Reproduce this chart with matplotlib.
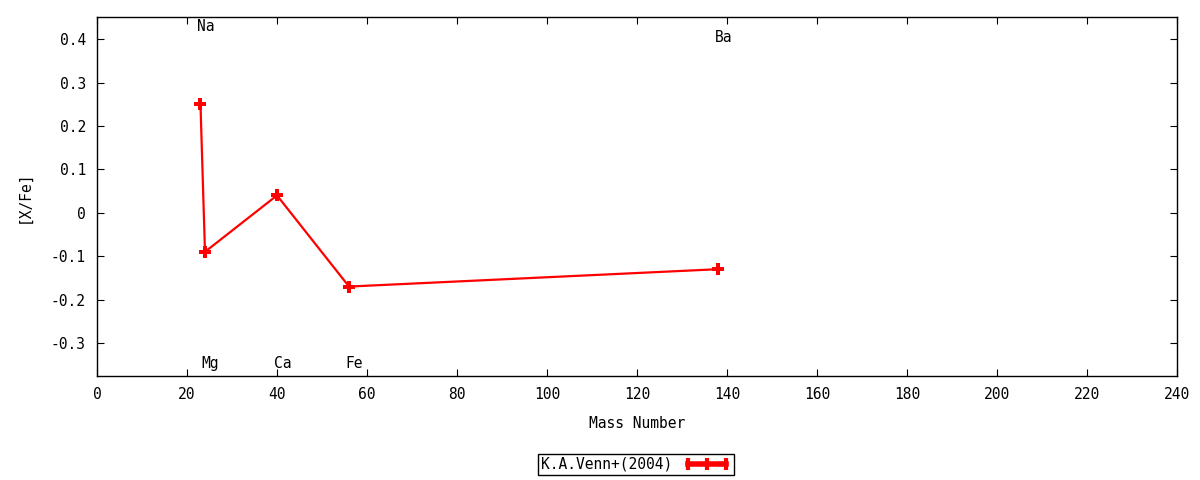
import matplotlib
matplotlib.use("Agg")
import matplotlib.pyplot as plt
from matplotlib.lines import Line2D

# ── Data: [X/Fe] vs mass number, K.A.Venn+(2004) ───────────────────────────
elements = ["Na", "Mg", "Ca", "Fe", "Ba"]
mass_number = [23, 24, 40, 56, 138]
x_fe = [0.25, -0.09, 0.04, -0.17, -0.13]

# element label positions (y in data units)
label_y = [0.428, -0.348, -0.348, -0.348, 0.403]

plt.rcParams["font.family"] = ["DejaVu Sans Mono"]
plt.rcParams["font.size"] = 10.5

fig = plt.figure(figsize=(12, 4.8), dpi=100)
ax = fig.add_axes([0.0808, 0.2167, 0.9002, 0.7479])

ax.plot(mass_number, x_fe, color="red", linewidth=1.6, marker="P",
        markersize=8, markeredgewidth=0, zorder=3)

for name, m, ly in zip(elements, mass_number, label_y):
    ax.text(m - 0.7, ly, name, ha="left", va="center", fontsize=10.5)

ax.set_xlim(0, 240)
ax.set_ylim(-0.376, 0.451)
ax.set_xticks(range(0, 241, 20))
ax.set_yticks([-0.3, -0.2, -0.1, 0, 0.1, 0.2, 0.3, 0.4])
ax.set_yticklabels(["-0.3", "-0.2", "-0.1", "0", "0.1", "0.2", "0.3", "0.4"])
ax.tick_params(direction="in", top=True, right=True, length=5, width=0.8,
               pad=8)
for sp in ax.spines.values():
    sp.set_linewidth(1)

ax.set_xlabel("Mass Number", labelpad=10)
ax.set_ylabel("[X/Fe]", labelpad=14)

# legend sample in gnuplot errorbar style: thick bar with end caps
handle = Line2D([0], [0], color="red", linewidth=4, marker="|",
                markersize=9, markeredgewidth=3)
fig.legend([handle], ["K.A.Venn+(2004)"], loc="center", numpoints=3,
           bbox_to_anchor=(0.53, 0.033), frameon=True, fancybox=False,
           edgecolor="black", markerfirst=False, handlelength=3.2,
           borderpad=0.2, borderaxespad=0, handletextpad=0.8, framealpha=1)

fig.savefig("out.png", dpi=100)
